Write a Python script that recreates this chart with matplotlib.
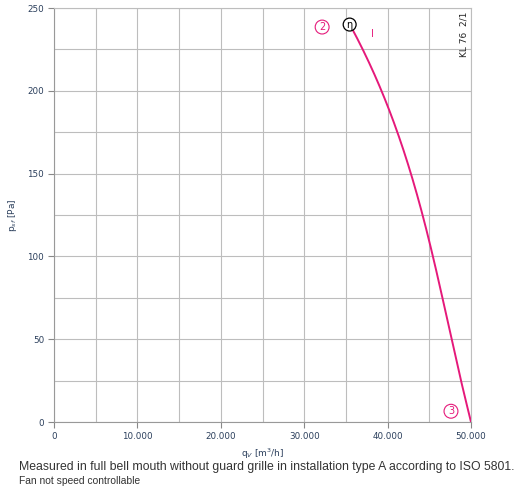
import matplotlib
matplotlib.use("Agg")
import matplotlib.pyplot as plt
import numpy as np
from matplotlib.ticker import FuncFormatter, MultipleLocator

# curve data (q_V in m3/h, p_sf in Pa)
flow = [35450, 37000, 39400, 41090, 42770, 44200, 45400, 46600, 47700, 48800, 50000]
pressure = [240, 225, 200, 175, 150, 125, 100, 75, 50, 25, 0]

x_ticks = [0, 10000, 20000, 30000, 40000, 50000]
y_ticks = [0, 50, 100, 150, 200, 250]

pink = "#e5197a"
grid_col = "#bdbdbd"
tick_col = "#2b3f5c"

fig = plt.figure(figsize=(5.18, 4.95), dpi=100)
ax = fig.add_axes([54 / 518, 1 - 422 / 495, 417 / 518, 414 / 495])

# smooth line through the read points (flow as a function of pressure)
coef = np.polyfit(pressure, flow, 3)
p_line = np.linspace(pressure[0], pressure[-1], 200)
q_line = np.polyval(coef, p_line)
q_line[0], q_line[-1] = flow[0], flow[-1]
ax.plot(q_line, p_line, color=pink, lw=1.4, solid_capstyle="round", zorder=3)

ax.set_xlim(0, 50000)
ax.set_ylim(0, 250)
ax.set_xticks(x_ticks)
ax.set_yticks(y_ticks)
ax.xaxis.set_minor_locator(MultipleLocator(5000))
ax.yaxis.set_minor_locator(MultipleLocator(25))
ax.grid(True, which="both", color=grid_col, lw=0.8)
ax.tick_params(which="minor", length=0)
ax.tick_params(which="major", length=4, width=0.8, color="#888888",
               labelsize=6.3, labelcolor=tick_col, pad=3)
ax.xaxis.set_major_formatter(FuncFormatter(lambda v, p: f"{int(v):,}".replace(",", ".")))
for s in ax.spines.values():
    s.set_color(grid_col)
    s.set_linewidth(0.8)
ax.spines["left"].set_color("#999999")
ax.spines["bottom"].set_color("#999999")

ax.set_xlabel(r"q$_V$ [m$^3$/h]", fontsize=6.5, color=tick_col, labelpad=4)
ax.set_ylabel(r"p$_{sf}$ [Pa]", fontsize=6.5, color=tick_col, labelpad=6)

# annotations
ax.text(flow[0], pressure[0], "\u03b7", fontsize=7, ha="center", va="center", zorder=4,
        bbox=dict(boxstyle="circle,pad=0.15", fc="white", ec="black", lw=0.9))
ax.text(32150, 238.5, "2", fontsize=7, color=pink, ha="center", va="center",
        bbox=dict(boxstyle="circle,pad=0.2", fc="white", ec=pink, lw=0.8))
ax.text(47600, 6.5, "3", fontsize=7, color=pink, ha="center", va="center",
        bbox=dict(boxstyle="circle,pad=0.2", fc="white", ec=pink, lw=0.8))
ax.text(38150, 234.5, "I", fontsize=7, color=pink, ha="center", va="center")
ax.text(49150, 248, "KL 76  2/1", fontsize=6.5, rotation=90, ha="center", va="top", color="#222222")

fig.text(19 / 518, 1 - 467 / 495, "Measured in full bell mouth without guard grille in installation type A according to ISO 5801.",
         fontsize=8.8, color="#333333", va="center", family="Liberation Sans")
fig.text(19 / 518, 1 - 481 / 495, "Fan not speed controllable",
         fontsize=7.4, color="#333333", va="center", family="Liberation Sans")

fig.savefig("out.png", dpi=100)
